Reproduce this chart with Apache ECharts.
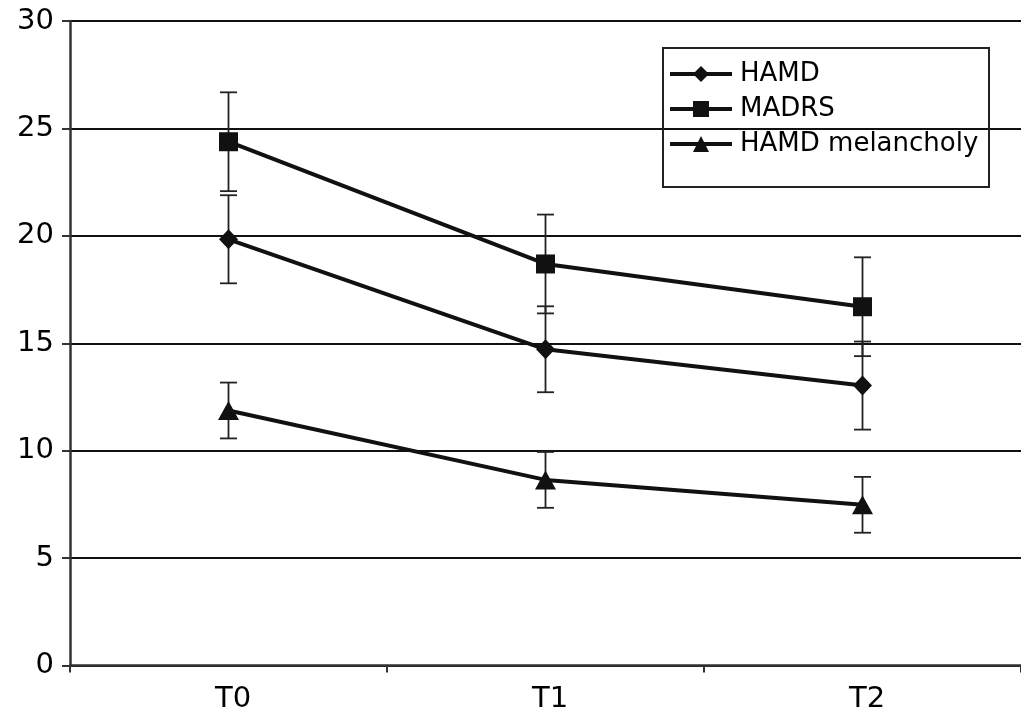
<!DOCTYPE html>
<html>
<head>
<meta charset="utf-8">
<style>
  html, body { margin: 0; padding: 0; background: #fff; }
  #chart { width: 1021px; height: 711px; }
</style>
<script src="https://cdn.jsdelivr.net/npm/echarts@6/dist/echarts.min.js"></script>
</head>
<body>
<div id="chart"></div>
<script>
// Time points
const timepoints = ['T0', 'T1', 'T2'];

// Mean scores per scale
const hamd = [19.84, 14.72, 13.03];
const madrs = [24.38, 18.69, 16.70];
const hamdMelancholy = [11.87, 8.64, 7.48];

// Half-length of each error bar
const hamdErr = [2.05, 2.0, 2.05];
const madrsErr = [2.3, 2.3, 2.3];
const hamdMelancholyErr = [1.3, 1.3, 1.3];

// Y axis range
const yMin = 0, yMax = 30, yStep = 5;

const FONT = 'DejaVu Sans';
const INK = '#111';

function errorData(means, errs) {
  return means.map((m, i) => [i, m - errs[i], m + errs[i]]);
}

function renderErrorBar(params, api) {
  const x = api.value(0);
  const lo = api.coord([x, api.value(1)]);
  const hi = api.coord([x, api.value(2)]);
  const half = 8.5;
  const style = { stroke: '#222', lineWidth: 1.8, fill: null };
  return {
    type: 'group',
    children: [
      { type: 'line', shape: { x1: lo[0], y1: lo[1], x2: hi[0], y2: hi[1] }, style },
      { type: 'line', shape: { x1: lo[0] - half, y1: lo[1], x2: lo[0] + half, y2: lo[1] }, style },
      { type: 'line', shape: { x1: hi[0] - half, y1: hi[1], x2: hi[0] + half, y2: hi[1] }, style }
    ]
  };
}

function lineSeries(name, data, symbol, size) {
  return {
    name, type: 'line', data, symbol, symbolSize: size,
    z: 5,
    lineStyle: { color: INK, width: 4 },
    itemStyle: { color: INK, borderWidth: 0 },
    emphasis: { disabled: true },
    animation: false
  };
}

function errorSeries(means, errs) {
  return {
    type: 'custom', renderItem: renderErrorBar,
    data: errorData(means, errs), z: 3, silent: true, animation: false,
    encode: { x: 0, y: [1, 2] }
  };
}

const chart = echarts.init(document.getElementById('chart'), null, { renderer: 'canvas' });

chart.setOption({
  backgroundColor: '#fff',
  animation: false,
  textStyle: { fontFamily: FONT },
  grid: { left: 70, right: 0, top: 21, bottom: 45.5, containLabel: false, outerBoundsMode: 'none' },
  legend: {
    left: 663, top: 56, orient: 'vertical',
    itemWidth: 62, itemHeight: 20, itemGap: 9,
    data: ['HAMD', 'MADRS', 'HAMD melancholy'],
    lineStyle: { width: 4, color: INK },
    textStyle: { fontFamily: FONT, fontSize: 26, lineHeight: 22, color: '#000', padding: [0, 0, 0, 3] },
    selectedMode: false
  },
  graphic: [{
    type: 'rect', left: 662, top: 47, z: 100,
    shape: { width: 326, height: 139 },
    style: { fill: 'rgba(0,0,0,0)', stroke: '#222', lineWidth: 2 }
  }],
  xAxis: {
    type: 'category', data: timepoints, boundaryGap: true,
    axisLine: { lineStyle: { color: '#333', width: 2.5 } },
    axisTick: { show: true, interval: 0, length: 7, lineStyle: { color: '#333', width: 2 } },
    axisLabel: { fontFamily: FONT, fontSize: 29, color: '#000', margin: 19, padding: [0, 0, 0, 9] },
    splitLine: { show: false }
  },
  yAxis: {
    type: 'value', min: yMin, max: yMax, interval: yStep,
    axisLine: { show: true, lineStyle: { color: '#333', width: 2.5 } },
    axisTick: { show: true, length: 8, lineStyle: { color: '#333', width: 2 } },
    axisLabel: { fontFamily: FONT, fontSize: 29, color: '#000', margin: 16 },
    splitLine: { show: true, lineStyle: { color: '#111', width: 2 } }
  },
  series: [
    errorSeries(hamd, hamdErr),
    errorSeries(madrs, madrsErr),
    errorSeries(hamdMelancholy, hamdMelancholyErr),
    lineSeries('HAMD', hamd, 'diamond', [19, 20]),
    lineSeries('MADRS', madrs, 'rect', 19),
    lineSeries('HAMD melancholy', hamdMelancholy, 'triangle', [21, 19])
  ]
});
</script>
</body>
</html>
